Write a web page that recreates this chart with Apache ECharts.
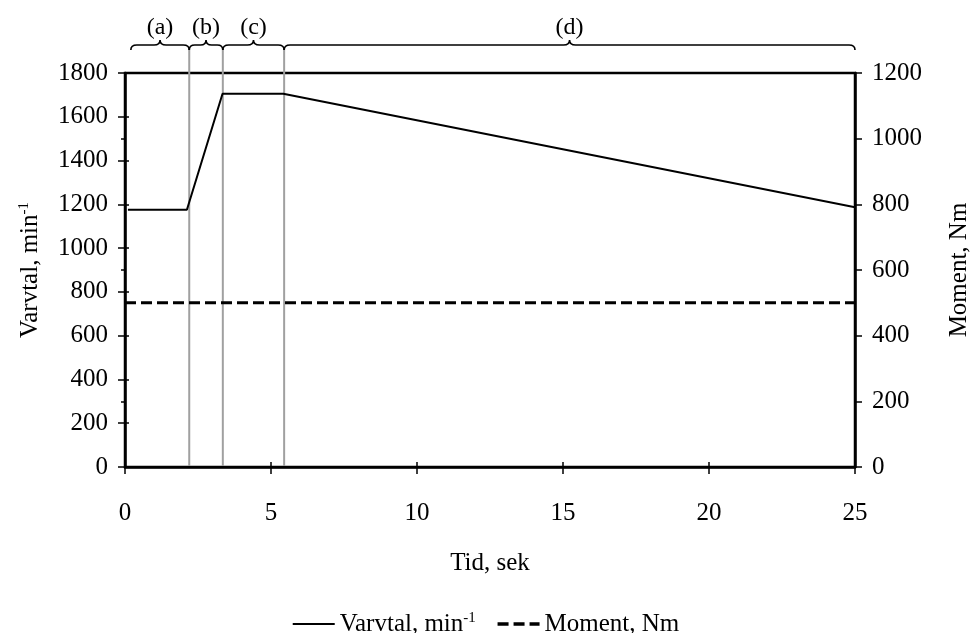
<!DOCTYPE html>
<html><head><meta charset="utf-8">
<script src="https://cdn.jsdelivr.net/npm/echarts@6/dist/echarts.min.js"></script>
<style>html,body{margin:0;padding:0;background:#fff}#c{width:971px;height:633px}</style>
</head><body><div id="c"></div>
<script>
// Data
const varvtalT = [0.1, 2.12, 3.34, 5.42, 25];
const varvtalV = [1175, 1175, 1705, 1705, 1187];
const momentT = [0, 25];
const momentV = [500, 500];
const phaseLines = [2.2, 3.35, 5.45];
const braceStart = [0.2, 2.2, 3.35, 5.45];
const braceEnd = [2.2, 3.35, 5.45, 25];
const braceLabels = ['(a)', '(b)', '(c)', '(d)'];

const FONT = '"Liberation Serif", "Times New Roman", serif';
const FS = 25;
const black = '#000';
const sup = {fontSize: 15, verticalAlign: 'top', padding: [0, 0, 11, 0], fontFamily: FONT, color: black};
const base = {fontSize: FS, fontFamily: FONT, color: black};
const plain = v => String(v);

const chart = echarts.init(document.getElementById('c'), null, {renderer: 'canvas'});

const annotData = braceStart.map((s, i) => [s, braceEnd[i], i]);
const lineData = phaseLines.map(t => [t, 0]);

const option = {
  animation: false,
  backgroundColor: '#fff',
  grid: {left: 125, right: 116, top: 73, bottom: 166, show: true, borderColor: black, borderWidth: 2.5,
         containLabel: false, outerBoundsMode: 'none'},
  legend: {
    top: 606, left: 'center', itemWidth: 42, itemHeight: 14, itemGap: 20,
    data: [{name: 'Varvtal'}, {name: 'Moment', lineStyle: {width: 3.5}}],
    itemStyle: {color: 'rgba(0,0,0,0)', borderWidth: 0, opacity: 0},
    formatter: n => n === 'Varvtal' ? '{a|Varvtal, min}{s|-1}' : '{a|Moment, Nm}',
    textStyle: {fontSize: FS, fontFamily: FONT, color: black, rich: {a: base, s: sup}}
  },
  xAxis: [{
    type: 'value', min: 0, max: 25, interval: 5,
    name: 'Tid, sek', nameLocation: 'middle', nameGap: 84,
    nameTextStyle: {fontSize: FS, fontFamily: FONT, color: black},
    axisLine: {show: true, onZero: false, lineStyle: {color: black, width: 2.5}},
    axisTick: {show: true, length: 7, lineStyle: {color: black, width: 1.5}},
    axisLabel: {fontSize: FS, fontFamily: FONT, color: black, margin: 34, formatter: plain},
    splitLine: {show: false}
  }, {
    type: 'value', min: 0, max: 25, interval: 5, position: 'bottom', gridIndex: 0,
    axisLine: {show: false}, axisLabel: {show: false}, splitLine: {show: false},
    axisTick: {show: true, inside: true, length: 5, lineStyle: {color: black, width: 1.5}}
  }],
  yAxis: [{
    type: 'value', min: 0, max: 1800, interval: 200, position: 'left',
    name: 'Varvtal, min{s|-1}', nameLocation: 'middle', nameGap: 82, nameRotate: 90,
    nameTextStyle: {fontSize: FS, fontFamily: FONT, color: black, rich: {s: sup}},
    axisLine: {show: true, onZero: false, lineStyle: {color: black, width: 2.5}},
    axisTick: {show: true, length: 7, lineStyle: {color: black, width: 1.5}},
    axisLabel: {fontSize: FS, fontFamily: FONT, color: black, margin: 17, formatter: plain},
    splitLine: {show: false}
  }, {
    type: 'value', min: 0, max: 1200, interval: 200, position: 'right',
    name: 'Moment, Nm', nameLocation: 'middle', nameGap: 92, nameRotate: 90,
    nameTextStyle: {fontSize: FS, fontFamily: FONT, color: black},
    axisLine: {show: true, onZero: false, lineStyle: {color: black, width: 2.5}},
    axisTick: {show: true, length: 7, lineStyle: {color: black, width: 1.5}},
    axisLabel: {fontSize: FS, fontFamily: FONT, color: black, margin: 17, formatter: plain},
    splitLine: {show: false}
  }, {
    type: 'value', min: 0, max: 1800, interval: 200, position: 'left',
    axisLine: {show: false}, axisLabel: {show: false}, splitLine: {show: false},
    axisTick: {show: true, inside: true, length: 4, lineStyle: {color: black, width: 1.5}}
  }, {
    type: 'value', min: 0, max: 1200, interval: 200, position: 'right',
    axisLine: {show: false}, axisLabel: {show: false}, splitLine: {show: false},
    axisTick: {show: true, inside: true, length: 4, lineStyle: {color: black, width: 1.5}}
  }],
  series: [
    {
      name: 'phases', type: 'custom', xAxisIndex: 0, yAxisIndex: 0, clip: false, silent: true,
      data: lineData,
      renderItem: (params, api) => {
        const p0 = api.coord([api.value(0), 0]);
        const pTop = api.coord([api.value(0), 1800]);
        return {type: 'line', shape: {x1: p0[0], y1: p0[1] - 1, x2: p0[0], y2: pTop[1] - 26},
          style: {stroke: '#a0a0a0', lineWidth: 2}};
      },
      z: 1
    },
    {
      name: 'braces', type: 'custom', xAxisIndex: 0, yAxisIndex: 0, clip: false, silent: true,
      data: annotData,
      renderItem: (params, api) => {
        const a = api.coord([api.value(0), 1800]);
        const b = api.coord([api.value(1), 1800]);
        const y = a[1] - 28;
        const x0 = a[0], x1 = b[0], m = (x0 + x1) / 2;
        const r = Math.min(6, (x1 - x0) / 6);
        const path = `M${x0} ${y + 5} Q${x0} ${y} ${x0 + r} ${y} L${m - r} ${y} Q${m} ${y} ${m} ${y - 5} Q${m} ${y} ${m + r} ${y} L${x1 - r} ${y} Q${x1} ${y} ${x1} ${y + 5}`;
        return {type: 'group', children: [
          {type: 'path', shape: {pathData: path}, style: {fill: null, stroke: black, lineWidth: 1.6}},
          {type: 'text', x: m, y: y - 5, style: {text: braceLabels[api.value(2)], fontSize: 24, fontFamily: FONT, fill: black, align: 'center', verticalAlign: 'bottom'}}
        ]};
      },
      z: 3
    },
    {
      name: 'Varvtal', type: 'line', xAxisIndex: 0, yAxisIndex: 0, symbol: 'none',
      data: varvtalT.map((t, i) => [t, varvtalV[i]]),
      lineStyle: {color: black, width: 2}, itemStyle: {color: black}, z: 5
    },
    {
      name: 'Moment', type: 'line', xAxisIndex: 0, yAxisIndex: 1, symbol: 'none',
      data: momentT.map((t, i) => [t, momentV[i]]),
      lineStyle: {color: black, width: 3, type: [11, 5]}, itemStyle: {color: black}, z: 5
    }
  ]
};
chart.setOption(option);
</script></body></html>
